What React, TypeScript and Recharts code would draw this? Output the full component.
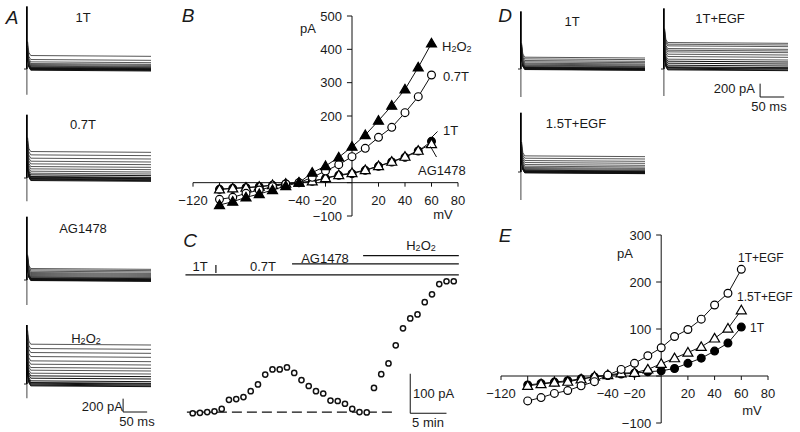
import { LineChart, Line, XAxis, YAxis, ReferenceLine } from 'recharts';

const FONT = '"Liberation Sans", Arial, Helvetica, sans-serif';
const INK = '#1a1a1a';

// ---- B: I-V relations (pA vs mV) ----
const ivMv = [-100, -90, -80, -70, -60, -50, -40, -30, -20, -10, 0, 10, 20, 30, 40, 50, 60];
const ivH2O2 = [-67, -57, -44, -34, -22, -10, 0, 30, 50, 76, 108, 143, 186, 231, 280, 346, 418];
const iv07T = [-50, -44, -32, -22, -12, -4, 0, 16, 35, 54, 78, 103, 136, 166, 210, 258, 323];
const iv1T = [-20, -17, -15, -12, -8, -4, 0, 4, 13, 22, 27, 37, 49, 62, 76, 95, 124];
const ivAG = [-20, -17, -15, -12, -7, -3, 0, 4, 14, 23, 29, 38, 50, 63, 78, 96, 116];

// ---- E: I-V relations with EGF ----
const ivE1TEGF = [-53, -46, -37, -31, -21, -12, 2, 14, 27, 43, 60, 84, 99, 121, 151, 176, 227];
const ivE15TEGF = [-21, -17, -14, -12, -7, -1, 2, 6, 7, 14, 26, 38, 50, 62, 80, 101, 140];
const ivE1T = [-19, -16, -13, -10, -6, -2, 1, 4, 6, 9, 11, 16, 27, 38, 53, 70, 104];

// ---- C: time course (min, pA at +60 mV) ----
const tcMin = [0, 1, 2, 3, 4, 5, 6, 7, 8, 9, 10, 11, 12, 13, 14, 15, 16, 17, 18, 19, 20, 21, 22, 23, 24, 25, 26, 27, 28, 29, 30, 31, 32, 33, 34, 35, 36];
const tcPa = [-3, -2, 0, 2, 8, 31, 33, 38, 53, 70, 95, 108, 108, 113, 99, 81, 66, 53, 47, 29, 28, 21, 8, 0, -1, 61, 96, 123, 169, 212, 237, 247, 278, 298, 324, 331, 331];
const tcSwitch07T = 3.2;
const tcStartAG = 13.7;
const tcStartH2O2 = 23.5;
const tcEnd = 36.7;

// ---- A / D: current trace families, steady level of each step (pA) ----
const trA1T = [-30, -20, -15, -10, -5, 0, 5, 10, 15, 20, 30, 40, 55, 70, 95, 130, 190];
const trA07T = [-50, -40, -30, -20, -10, 0, 10, 35, 60, 90, 125, 160, 200, 240, 285, 335, 385];
const trAAG = [-20, -15, -10, -5, 0, 5, 10, 20, 30, 40, 55, 70, 85, 100, 120, 140, 160];
const trAH2O2 = [-40, -30, -15, 0, 10, 35, 75, 110, 150, 195, 235, 285, 335, 400, 460, 520, 585];
const trD1T = [-20, -15, -10, -5, 0, 5, 10, 15, 25, 35, 45, 60, 75, 95, 115, 140, 165];
const trD1TEGF = [-25, -15, 0, 10, 20, 45, 75, 105, 135, 175, 210, 245, 270, 295, 335, 360, 385];
const trD15TEGF = [-25, -20, -15, -10, -5, 0, 5, 15, 25, 40, 55, 75, 100, 130, 160, 195, 230];
// capacitive transient extent [top, bottom] (pA)
const spA1T = [940, -385];
const spA07T = [950, -350];
const spAAG = [950, -375];
const spAH2O2 = [885, -215];
const spD1T = [865, -420];
const spD1TEGF = [910, -405];
const spD15TEGF = [890, -420];
// early decay of every trace (ms, extra pA)
const decayMs = [1.5, 4, 8, 258];
const decayPa = [220, 60, 12, 0];

const fmt = (v: number) => (v < 0 ? '\u2212' + Math.abs(v) : String(v));

function Marker({ cx, cy, kind }: { cx?: number; cy?: number; kind: string }) {
    if (cx == null || cy == null) return null;
    if (kind === 'tri' || kind === 'triOpen') {
        const s = 5;
        const pts = `${cx},${cy - s} ${cx - s},${cy + s * 0.72} ${cx + s},${cy + s * 0.72}`;
        return <polygon points={pts} fill={kind === 'tri' ? '#000' : '#fff'} stroke="#000" strokeWidth={1.2} />;
    }
    return <circle cx={cx} cy={cy} r={3.9} fill={kind === 'dot' ? '#000' : '#fff'} stroke="#000" strokeWidth={1.2} />;
}

interface Series {
    key: string;
    values: number[];
    kind: string;
}

interface IVProps {
    left: number;
    top: number;
    width: number;
    height: number;
    margin: { top: number; right: number; bottom: number; left: number };
    yDomain: [number, number];
    series: Series[];
    xTicks: number[];
    xLabels: number[];
    yTicks: number[];
    yLabels: number[];
    xTickLen: number; // in pA
    yTickLen: number; // in mV
}

function IVChart(p: IVProps) {
    const data = ivMv.map((mv, i) => {
        const row: Record<string, number> = { mv };
        p.series.forEach((s) => {
            row[s.key] = s.values[i];
        });
        return row;
    });
    return (
        <div style={{ position: 'absolute', left: p.left, top: p.top }}>
            <LineChart width={p.width} height={p.height} data={data} margin={p.margin}>
                <XAxis type="number" dataKey="mv" domain={[-120, 80]} hide allowDataOverflow />
                <YAxis type="number" domain={p.yDomain} hide allowDataOverflow />
                <ReferenceLine y={0} stroke="#111" strokeWidth={1} ifOverflow="visible" />
                <ReferenceLine x={0} stroke="#111" strokeWidth={1} ifOverflow="visible" />
                {p.xTicks.map((v) => (
                    <ReferenceLine
                        key={'x' + v}
                        segment={[{ x: v, y: 0 }, { x: v, y: -p.xTickLen }]}
                        stroke="#111"
                        ifOverflow="visible"
                        label={
                            p.xLabels.includes(v)
                                ? { value: fmt(v), position: 'bottom', offset: 9, fill: INK, fontSize: 13 }
                                : undefined
                        }
                    />
                ))}
                {p.yTicks.map((v) => (
                    <ReferenceLine
                        key={'y' + v}
                        segment={[{ x: -p.yTickLen, y: v }, { x: 0, y: v }]}
                        stroke="#111"
                        ifOverflow="visible"
                        label={
                            p.yLabels.includes(v)
                                ? { value: fmt(v), position: 'left', offset: 5, fill: INK, fontSize: 13 }
                                : undefined
                        }
                    />
                ))}
                {p.series.map((s) => (
                    <Line
                        key={s.key}
                        dataKey={s.key}
                        stroke="#111"
                        strokeWidth={1}
                        isAnimationActive={false}
                        dot={(d: any) => <Marker key={s.key + d.index} cx={d.cx} cy={d.cy} kind={s.kind} />}
                    />
                ))}
            </LineChart>
        </div>
    );
}

interface TraceProps {
    left: number;
    top: number;
    levels: number[];
    spike: number[];
    scaleBar?: boolean;
}

function TraceFamily({ left, top, levels, spike, scaleBar }: TraceProps) {
    const traces = levels.map((lv) => decayMs.map((t, i) => ({ t, v: lv + decayPa[i] })));
    const spikeUp = [
        { t: 0, v: spike[0] },
        { t: 0, v: 0 },
    ];
    const spikeDown = [
        { t: 0, v: 0 },
        { t: 0, v: spike[1] },
    ];
    return (
        <div style={{ position: 'absolute', left, top }}>
            <LineChart width={127} height={100} margin={{ top: 0, right: 0, bottom: 0, left: 0 }}>
                <XAxis type="number" dataKey="t" domain={[-6, 258]} hide allowDataOverflow />
                <YAxis type="number" domain={[-450, 1050]} hide allowDataOverflow />
                {traces.map((d, i) => (
                    <Line
                        key={i}
                        data={d}
                        dataKey="v"
                        stroke={i < 8 ? '#111' : '#2a2a2a'}
                        strokeWidth={i < 8 ? 1 : 0.8}
                        dot={false}
                        isAnimationActive={false}
                    />
                ))}
                <Line data={spikeUp} dataKey="v" stroke="#000" strokeWidth={1.8} dot={false} isAnimationActive={false} />
                <Line data={spikeDown} dataKey="v" stroke="#555" strokeWidth={1.1} dot={false} isAnimationActive={false} />
                <ReferenceLine segment={[{ x: -6, y: 0 }, { x: 0, y: 0 }]} stroke="#222" ifOverflow="visible" />
                {scaleBar && (
                    <>
                        <ReferenceLine segment={[{ x: 200, y: -220 }, { x: 200, y: -420 }]} stroke="#111" ifOverflow="visible" />
                        <ReferenceLine segment={[{ x: 200, y: -420 }, { x: 250, y: -420 }]} stroke="#111" ifOverflow="visible" />
                    </>
                )}
            </LineChart>
        </div>
    );
}

function TimeCourse() {
    const data = tcMin.map((m, i) => ({ min: m, pa: tcPa[i] }));
    return (
        <div style={{ position: 'absolute', left: 174, top: 250 }}>
            <LineChart width={292} height={173} data={data} margin={{ top: 4, right: 5, bottom: 5, left: 10 }}>
                <XAxis type="number" dataKey="min" domain={[-1.2, 37]} hide allowDataOverflow />
                <YAxis type="number" domain={[-15, 400]} hide allowDataOverflow />
                <ReferenceLine segment={[{ x: -1, y: 347 }, { x: tcEnd, y: 347 }]} stroke="#111" strokeWidth={1.2} ifOverflow="visible" />
                <ReferenceLine segment={[{ x: tcStartAG, y: 375 }, { x: tcEnd, y: 375 }]} stroke="#111" strokeWidth={1.2} ifOverflow="visible" />
                <ReferenceLine segment={[{ x: tcStartH2O2, y: 396 }, { x: tcEnd, y: 396 }]} stroke="#111" strokeWidth={1.2} ifOverflow="visible" />
                <ReferenceLine segment={[{ x: tcSwitch07T, y: 352 }, { x: tcSwitch07T, y: 372 }]} stroke="#111" strokeWidth={1.2} ifOverflow="visible" />
                <ReferenceLine segment={[{ x: -0.8, y: 0 }, { x: 27.5, y: 0 }]} stroke="#111" strokeWidth={1.2} strokeDasharray="10 5" ifOverflow="visible" />
                <ReferenceLine segment={[{ x: 30, y: -3 }, { x: 30, y: 97 }]} stroke="#111" ifOverflow="visible" />
                <ReferenceLine segment={[{ x: 30, y: -3 }, { x: 35, y: -3 }]} stroke="#111" ifOverflow="visible" />
                <Line
                    dataKey="pa"
                    stroke="none"
                    isAnimationActive={false}
                    dot={{ r: 2.6, fill: '#fff', stroke: '#111', strokeWidth: 1.5 }}
                />
            </LineChart>
        </div>
    );
}

function T({ x, y, children, anchor = 'middle', size = 13, italic = false }: any) {
    return (
        <text
            x={x}
            y={y}
            fontSize={size}
            textAnchor={anchor}
            dominantBaseline="central"
            fill={INK}
            fontStyle={italic ? 'italic' : 'normal'}
        >
            {children}
        </text>
    );
}

const H2O2 = (
    <>
        H<tspan fontSize={9} dy={3}>2</tspan>
        <tspan dy={-3}>O</tspan>
        <tspan fontSize={9} dy={3}>2</tspan>
    </>
);

export default function App() {
    const ivXTicks = [-120, -100, -80, -60, -40, -20, 20, 40, 60, 80];
    const ivXLabels = [-120, -40, -20, 20, 40, 60, 80];
    return (
        <div
            style={{
                position: 'absolute',
                left: 0,
                top: 0,
                width: 800,
                height: 432,
                overflow: 'hidden',
                background: '#fff',
                fontFamily: FONT,
            }}
        >
            {/* A */}
            <TraceFamily left={24} top={-1} levels={trA1T} spike={spA1T} />
            <TraceFamily left={24} top={108} levels={trA07T} spike={spA07T} />
            <TraceFamily left={24} top={210} levels={trAAG} spike={spAAG} />
            <TraceFamily left={24} top={314} levels={trAH2O2} spike={spAH2O2} scaleBar />
            {/* D */}
            <TraceFamily left={518} top={-1} levels={trD1T} spike={spD1T} />
            <TraceFamily left={661} top={-1} levels={trD1TEGF} spike={spD1TEGF} scaleBar />
            <TraceFamily left={518} top={102} levels={trD15TEGF} spike={spD15TEGF} />

            {/* B */}
            <IVChart
                left={148}
                top={6}
                width={335}
                height={230}
                margin={{ top: 10, right: 25, bottom: 20, left: 45 }}
                yDomain={[-100, 500]}
                series={[
                    { key: 't1', values: iv1T, kind: 'dot' },
                    { key: 'ag', values: ivAG, kind: 'triOpen' },
                    { key: 't07', values: iv07T, kind: 'circle' },
                    { key: 'h2o2', values: ivH2O2, kind: 'tri' },
                ]}
                xTicks={ivXTicks}
                xLabels={ivXLabels}
                yTicks={[-100, 0, 100, 200, 300, 400, 500]}
                yLabels={[-100, 200, 300, 400, 500]}
                xTickLen={12}
                yTickLen={3.8}
            />

            {/* C */}
            <TimeCourse />

            {/* E */}
            <IVChart
                left={460}
                top={225}
                width={338}
                height={207}
                margin={{ top: 10, right: 30, bottom: 9, left: 41 }}
                yDomain={[-100, 300]}
                series={[
                    { key: 't1', values: ivE1T, kind: 'dot' },
                    { key: 't15', values: ivE15TEGF, kind: 'triOpen' },
                    { key: 't1egf', values: ivE1TEGF, kind: 'circle' },
                ]}
                xTicks={ivXTicks}
                xLabels={ivXLabels}
                yTicks={[-100, 0, 100, 200, 300]}
                yLabels={[-100, 100, 200, 300]}
                xTickLen={8.5}
                yTickLen={3.8}
            />

            <svg width={800} height={432} style={{ position: 'absolute', left: 0, top: 0, pointerEvents: 'none' }}>
                {/* panel letters */}
                <T x={12} y={17} size={19} italic>A</T>
                <T x={188} y={15} size={19} italic>B</T>
                <T x={190} y={240} size={19} italic>C</T>
                <T x={505} y={15} size={19} italic>D</T>
                <T x={505} y={235} size={19} italic>E</T>

                {/* A labels */}
                <T x={83} y={17}>1T</T>
                <T x={83} y={124}>0.7T</T>
                <T x={83} y={228}>AG1478</T>
                <T x={86} y={338}>{H2O2}</T>
                <T x={123} y={406} anchor="end">200 pA</T>
                <T x={137} y={421}>50 ms</T>

                {/* D labels */}
                <T x={572} y={21}>1T</T>
                <T x={720} y={18}>1T+EGF</T>
                <T x={576} y={123}>1.5T+EGF</T>
                <T x={755} y={88} anchor="end">200 pA</T>
                <T x={769} y={106}>50 ms</T>

                {/* B labels */}
                <T x={308} y={28}>pA</T>
                <T x={443} y={214}>mV</T>
                <T x={442} y={46} anchor="start">{H2O2}</T>
                <T x={443} y={76} anchor="start">0.7T</T>
                <T x={443} y={130} anchor="start">1T</T>
                <T x={418} y={170} anchor="start">AG1478</T>
                <line x1={432} y1={137} x2={437.5} y2={131.5} stroke="#111" strokeWidth={1} />
                <line x1={430.5} y1={146.5} x2={436.5} y2={157} stroke="#111" strokeWidth={1} />

                {/* C labels */}
                <T x={200} y={266}>1T</T>
                <T x={263} y={266}>0.7T</T>
                <T x={325} y={258}>AG1478</T>
                <T x={421} y={245}>{H2O2}</T>
                <T x={413} y={393} anchor="start">100 pA</T>
                <T x={428} y={422}>5 min</T>

                {/* E labels */}
                <T x={625} y={253}>pA</T>
                <T x={752} y={410}>mV</T>
                <T x={738} y={258} anchor="start" size={12}>1T+EGF</T>
                <T x={737} y={297} anchor="start" size={12}>1.5T+EGF</T>
                <T x={750} y={328} anchor="start" size={12}>1T</T>
            </svg>
        </div>
    );
}
